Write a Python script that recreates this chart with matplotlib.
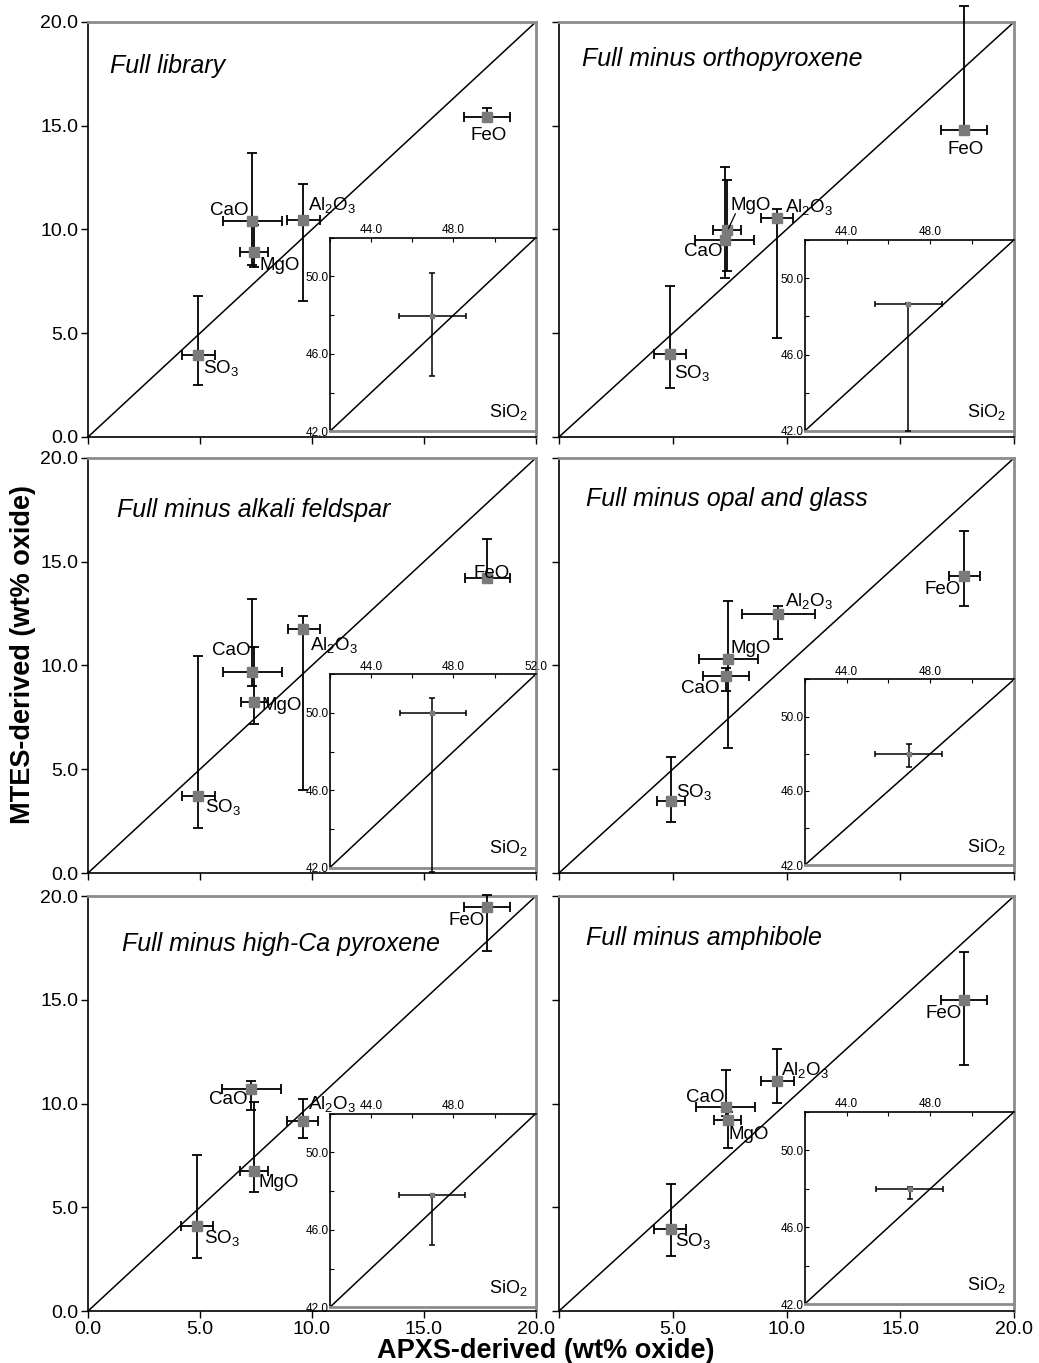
import matplotlib
matplotlib.use('Agg')
import matplotlib.pyplot as plt

plt.rcParams['font.family'] = ['Liberation Sans', 'DejaVu Sans']
plt.rcParams['mathtext.default'] = 'regular'

# ---- data (wt% oxide), order of oxides below ----
oxides = ['SO$_3$', 'CaO', 'MgO', 'Al$_2$O$_3$', 'FeO']
titles = ['Full library', 'Full minus orthopyroxene',
          'Full minus alkali feldspar', 'Full minus opal and glass',
          'Full minus high-Ca pyroxene', 'Full minus amphibole']

# APXS-derived (x) with low / high error ends, one row per panel
apxs = [[4.90, 7.34, 7.42, 9.60, 17.80],
        [4.89, 7.29, 7.39, 9.58, 17.78],
        [4.90, 7.34, 7.42, 9.60, 17.80],
        [4.92, 7.33, 7.42, 9.62, 17.81],
        [4.89, 7.29, 7.40, 9.59, 17.81],
        [4.91, 7.32, 7.42, 9.59, 17.80]]
apxs_lo = [[4.18, 6.03, 6.80, 8.90, 16.80],
           [4.17, 5.98, 6.79, 8.88, 16.78],
           [4.20, 6.03, 6.85, 8.92, 16.83],
           [4.31, 6.33, 6.14, 8.03, 17.13],
           [4.16, 5.98, 6.78, 8.90, 16.81],
           [4.19, 6.00, 6.80, 8.90, 16.79]]
apxs_hi = [[5.65, 8.65, 8.03, 10.34, 18.83],
           [5.59, 8.59, 8.00, 10.30, 18.79],
           [5.65, 8.65, 8.03, 10.34, 18.83],
           [5.53, 8.34, 8.73, 11.23, 18.51],
           [5.60, 8.60, 8.02, 10.29, 18.84],
           [5.60, 8.62, 8.00, 10.32, 18.80]]

# MTES-derived (y) with low / high error ends
mtes = [[3.94, 10.40, 8.92, 10.45, 15.43],
        [3.99, 9.50, 9.95, 10.56, 14.78],
        [3.70, 9.68, 8.23, 11.75, 14.20],
        [3.49, 9.47, 10.32, 12.48, 14.29],
        [4.11, 10.69, 6.76, 9.17, 19.47],
        [3.94, 9.81, 9.20, 11.09, 15.00]]
mtes_lo = [[2.49, 8.30, 8.20, 6.56, 15.35],
           [2.38, 7.66, 7.99, 4.75, 14.78],
           [2.18, 8.99, 7.16, 3.98, 14.20],
           [2.48, 8.77, 6.02, 11.28, 12.88],
           [2.57, 9.68, 5.75, 8.35, 17.34],
           [2.63, 9.40, 7.88, 10.03, 11.84]]
mtes_hi = [[6.78, 13.70, 10.20, 12.20, 15.87],
           [7.29, 13.00, 12.37, 10.97, 20.77],
           [10.45, 13.20, 10.88, 12.40, 16.10],
           [5.57, 9.90, 13.12, 12.88, 16.48],
           [7.54, 11.09, 10.08, 10.21, 20.06],
           [6.12, 11.60, 9.60, 12.61, 17.29]]

# SiO2 (inset), one value per panel
sio2_apxs = [46.97, 46.95, 46.97, 47.00, 46.96, 47.02]
sio2_apxs_lo = [45.36, 45.35, 45.39, 45.36, 45.34, 45.40]
sio2_apxs_hi = [48.60, 48.55, 48.60, 48.57, 48.57, 48.60]
sio2_mtes = [47.97, 48.66, 50.00, 48.00, 47.77, 48.00]
sio2_mtes_lo = [44.85, 42.00, 41.75, 47.30, 45.20, 47.46]
sio2_mtes_hi = [50.20, 48.70, 50.76, 48.50, 47.77, 48.10]

# ---- layout: label anchors (data coords), title anchors, inset boxes ----
label_pos = [
    [(5.14, 3.30, 'left'), (6.30, 10.90, 'center'), (7.65, 8.25, 'left'), (9.83, 11.17, 'left'), (17.90, 14.55, 'center')],
    [(5.05, 3.10, 'left'), (6.35, 8.95, 'center'), (7.52, 11.16, 'left'), (9.93, 11.08, 'left'), (17.85, 13.86, 'center')],
    [(5.22, 3.18, 'left'), (6.42, 10.72, 'center'), (7.75, 8.07, 'left'), (9.90, 11.00, 'left'), (18.03, 14.41, 'center')],
    [(5.16, 3.89, 'left'), (6.22, 8.90, 'center'), (7.54, 10.82, 'left'), (9.93, 13.09, 'left'), (16.88, 13.65, 'center')],
    [(5.17, 3.50, 'left'), (6.25, 10.21, 'center'), (7.63, 6.20, 'left'), (9.84, 9.97, 'left'), (16.93, 18.80, 'center')],
    [(5.09, 3.38, 'left'), (6.42, 10.29, 'center'), (7.43, 8.53, 'left'), (9.74, 11.60, 'left'), (16.90, 14.36, 'center')],
]
title_pos = [(1.0, 17.9), (1.0, 18.2), (1.3, 17.5), (1.2, 18.0), (1.5, 17.7), (1.2, 18.0)]
inset_box = [(10.8, 0.27, 9.2, 9.33), (10.8, 0.29, 9.2, 9.21), (10.8, 0.26, 9.2, 9.32),
             (10.8, 0.38, 9.2, 8.95), (10.8, 0.18, 9.2, 9.34), (10.8, 0.34, 9.2, 9.26)]

fig = plt.figure(figsize=(10.39, 13.63), dpi=100)
lefts = [0.0847, 0.538]
widths = [0.431, 0.438]
bottoms = [0.6794, 0.3595, 0.0381]
height = 0.3045

GRAY = '#8c8c8c'
MARK = '#7a7a7a'

for i in range(6):
    row, col = divmod(i, 2)
    ax = fig.add_axes([lefts[col], bottoms[row], widths[col], height])
    ax.set_xlim(0, 20)
    ax.set_ylim(0, 20)
    ax.plot([0, 20], [0, 20], color='black', lw=1.1, zorder=1)
    for s in ['left', 'bottom']:
        ax.spines[s].set_color('black')
        ax.spines[s].set_linewidth(1.2)
    for s in ['top', 'right']:
        ax.spines[s].set_color(GRAY)
        ax.spines[s].set_linewidth(2.0)
    ax.set_xticks([0, 5, 10, 15, 20])
    ax.set_yticks([0, 5, 10, 15, 20])
    ax.tick_params(direction='out', length=5, width=1.0, labelsize=14, pad=2)

    if col == 0:
        ax.set_yticklabels(['0.0', '5.0', '10.0', '15.0', '20.0'])
    else:
        ax.set_yticklabels([])
    if row == 2:
        if col == 0:
            ax.set_xticklabels(['0.0', '5.0', '10.0', '15.0', '20.0'])
        else:
            ax.set_xticklabels(['', '5.0', '10.0', '15.0', '20.0'])
    else:
        ax.set_xticklabels([])

    x = apxs[i]
    y = mtes[i]
    xerr = [[x[k] - apxs_lo[i][k] for k in range(5)], [apxs_hi[i][k] - x[k] for k in range(5)]]
    yerr = [[y[k] - mtes_lo[i][k] for k in range(5)], [mtes_hi[i][k] - y[k] for k in range(5)]]
    ax.errorbar(x, y, xerr=xerr, yerr=yerr, fmt='s', color=MARK, ms=6.5, mec=MARK,
                ecolor='black', elinewidth=1.3, capsize=3.5, capthick=1.3,
                clip_on=False, zorder=3)

    for k, name in enumerate(oxides):
        lx, ly, ha = label_pos[i][k]
        ax.text(lx, ly, name, fontsize=13.5, ha=ha, va='center', zorder=4)
    if i == 1:
        # leader line from MgO label to its point
        ax.plot([7.75, 7.45], [10.75, 10.05], color='black', lw=0.9, zorder=4)

    tx, ty = title_pos[i]
    ax.text(tx, ty, titles[i], fontsize=18, style='italic', ha='left', va='center')

    # SiO2 inset
    ins = ax.inset_axes(inset_box[i], transform=ax.transData)
    ins.set_xlim(42, 52)
    ins.set_ylim(42, 52)
    ins.plot([42, 52], [42, 52], color='black', lw=1.1)
    ins.spines['left'].set_color('black')
    ins.spines['top'].set_color('black')
    ins.spines['left'].set_linewidth(1.2)
    ins.spines['top'].set_linewidth(1.2)
    ins.spines['right'].set_color(GRAY)
    ins.spines['bottom'].set_color(GRAY)
    ins.spines['right'].set_linewidth(2.0)
    ins.spines['bottom'].set_linewidth(2.0)
    ins.xaxis.tick_top()
    ins.set_xticks([42, 44, 46, 48, 50, 52])
    if i == 2:
        ins.set_xticklabels(['', '44.0', '', '48.0', '', '52.0'])
    else:
        ins.set_xticklabels(['', '44.0', '', '48.0', '', ''])
    ins.set_yticks([42, 44, 46, 48, 50, 52])
    ins.set_yticklabels(['42.0', '', '46.0', '', '50.0', ''])
    ins.tick_params(direction='in', length=3, width=0.8, labelsize=8.5, pad=1)
    sx, sy = sio2_apxs[i], sio2_mtes[i]
    ins.errorbar([sx], [sy],
                 xerr=[[sx - sio2_apxs_lo[i]], [sio2_apxs_hi[i] - sx]],
                 yerr=[[sy - sio2_mtes_lo[i]], [sio2_mtes_hi[i] - sy]],
                 fmt='s', color=MARK, ms=3.5, mec=MARK, ecolor='black',
                 elinewidth=1.1, capsize=2.5, capthick=1.1, clip_on=False, zorder=3)
    ins.text(51.6, 43.0, 'SiO$_2$', fontsize=13, ha='right', va='center')

fig.text(0.022, 0.52, 'MTES-derived (wt% oxide)', rotation=90, fontsize=19.5,
         fontweight='bold', ha='center', va='center')
fig.text(0.525, 0.004, 'APXS-derived (wt% oxide)', fontsize=19.5,
         fontweight='bold', ha='center', va='baseline')

fig.savefig('out.png', dpi=100)
